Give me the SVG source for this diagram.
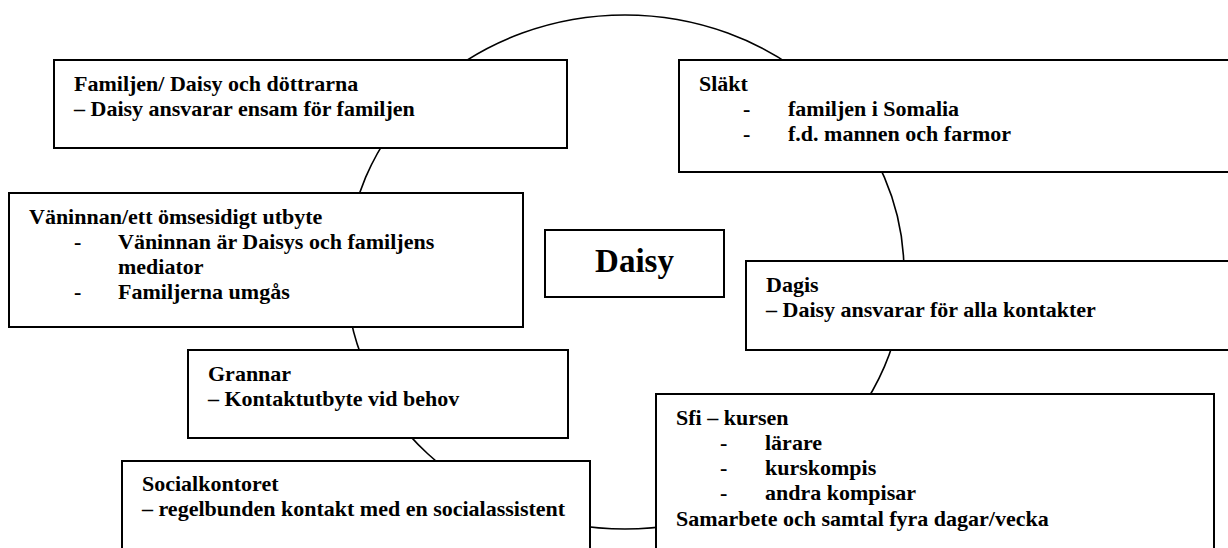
<svg xmlns="http://www.w3.org/2000/svg" width="1228" height="548" viewBox="0 0 1228 548">
  <style>
    .box { fill: #ffffff; stroke: #000000; stroke-width: 2; }
    .ring { fill: none; stroke: #000000; stroke-width: 1.6; }
    text { font-family: "Liberation Serif", "Times New Roman", serif; font-weight: bold; font-size: 22px; fill: #000000; }
    .center { font-size: 33px; text-anchor: middle; }
  </style>
  <rect width="1228" height="548" fill="#ffffff"/>

  <!-- ring that links every contact around Daisy -->
  <g id="connectors">
    <ellipse class="ring" cx="625" cy="272" rx="279" ry="257"/>
  </g>

  <g id="familjen">
    <rect class="box" x="54" y="60" width="513" height="88"/>
    <text x="74" y="90.5">Familjen/ Daisy och döttrarna</text>
    <text x="74" y="115.8">– Daisy ansvarar ensam för familjen</text>
  </g>

  <g id="slakt">
    <rect class="box" x="679" y="60" width="560" height="112"/>
    <text x="699" y="90.5">Släkt</text>
    <text x="743" y="115.8">-</text>
    <text x="788" y="115.8">familjen i Somalia</text>
    <text x="743" y="141.1">-</text>
    <text x="788" y="141.1">f.d. mannen och farmor</text>
  </g>

  <g id="vaninnan">
    <rect class="box" x="9" y="193" width="514" height="134"/>
    <text x="29" y="223.5">Väninnan/ett ömsesidigt utbyte</text>
    <text x="74" y="248.8">-</text>
    <text x="118" y="248.8">Väninnan är Daisys och familjens</text>
    <text x="118" y="274.1">mediator</text>
    <text x="74" y="299.4">-</text>
    <text x="118" y="299.4">Familjerna umgås</text>
  </g>

  <g id="daisy">
    <rect class="box" x="545" y="230" width="179" height="67"/>
    <text class="center" x="634.5" y="272">Daisy</text>
  </g>

  <g id="dagis">
    <rect class="box" x="746" y="261" width="500" height="89"/>
    <text x="766" y="291.5">Dagis</text>
    <text x="766" y="316.8">– Daisy ansvarar för alla kontakter</text>
  </g>

  <g id="grannar">
    <rect class="box" x="188" y="350" width="380" height="88"/>
    <text x="208" y="380.5">Grannar</text>
    <text x="208" y="405.8">– Kontaktutbyte vid behov</text>
  </g>

  <g id="socialkontoret">
    <rect class="box" x="122" y="461" width="468" height="110"/>
    <text x="142" y="491">Socialkontoret</text>
    <text x="142" y="516.3">– regelbunden kontakt med en socialassistent</text>
  </g>

  <g id="sfi">
    <rect class="box" x="656" y="394" width="558" height="170"/>
    <text x="676" y="424.5">Sfi – kursen</text>
    <text x="720" y="449.8">-</text>
    <text x="765" y="449.8">lärare</text>
    <text x="720" y="475.1">-</text>
    <text x="765" y="475.1">kurskompis</text>
    <text x="720" y="500.4">-</text>
    <text x="765" y="500.4">andra kompisar</text>
    <text x="676" y="525.7">Samarbete och samtal fyra dagar/vecka</text>
  </g>
</svg>
